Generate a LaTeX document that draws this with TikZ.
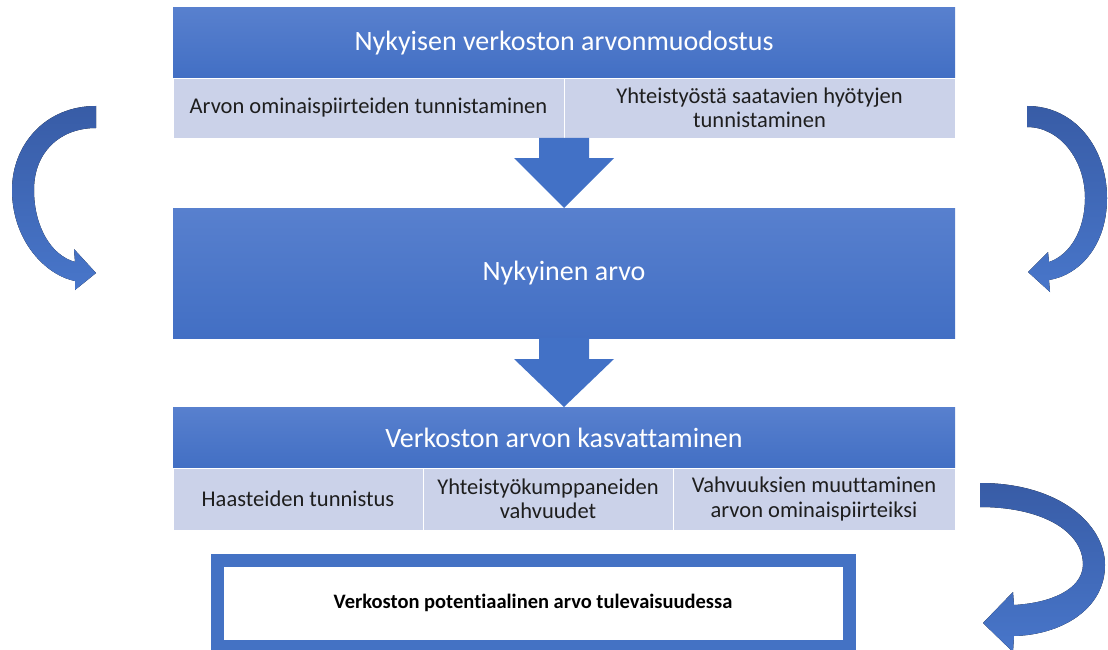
\documentclass[tikz,border=0pt]{standalone}
\usepackage{fontspec}
\setmainfont{Carlito}[Ligatures=NoCommon]
\usetikzlibrary{calc}

\definecolor{hdrtop}{RGB}{88,128,206}
\definecolor{hdrbot}{RGB}{66,111,196}
\definecolor{cellfill}{RGB}{203,210,233}
\definecolor{cellink}{RGB}{30,30,30}
\definecolor{arrowblue}{RGB}{66,113,198}
\definecolor{curvetop}{RGB}{56,92,166}
\definecolor{curvebot}{RGB}{72,118,202}
\definecolor{framecol}{RGB}{68,114,196}

\tikzset{
  base/.style={inner sep=0pt, outer sep=0pt},
  hdr/.style={base, top color=hdrtop, bottom color=hdrbot, text=white,
    font=\fontsize{28}{32}\selectfont, minimum width=782pt},
  cell/.style={base, fill=cellfill, draw=white, line width=0.8pt, text=cellink,
    align=center, font=\fontsize{22.5}{24.5}\selectfont},
  flowarrow/.style={fill=arrowblue},
  loopshape/.style={top color=curvetop, bottom color=curvebot},
  finalbox/.style={base, draw=framecol, line width=13pt, fill=white,
    font=\bfseries\fontsize{20.5}{24}\selectfont, text=black}
}

\begin{document}
\begin{tikzpicture}[x=1pt, y=-1pt]
\useasboundingbox (0,0) rectangle (1108,650);

% first stage: header and its two sub-cells
\node[hdr, minimum height=70pt] (t1) at (564,43) {Nykyisen verkoston arvonmuodostus};
\node[cell, minimum width=391pt, minimum height=60pt] (t1a) at (368.5,108)
  {Arvon ominaispiirteiden tunnistaminen};
\node[cell, minimum width=391pt, minimum height=60pt] (t1b) at (759.5,108)
  {Yhteistyöstä saatavien hyötyjen\\tunnistaminen};

% middle stage
\node[hdr, minimum height=130pt] (mv) at (564,273) {Nykyinen arvo};

% third stage: header and three sub-cells
\node[hdr, minimum height=61pt] (b1) at (564,437.5) {Verkoston arvon kasvattaminen};
\node[cell, minimum width=250pt, minimum height=62pt] (b1a) at (298,499)
  {Haasteiden tunnistus};
\node[cell, minimum width=250pt, minimum height=62pt] (b1b) at (548,499)
  {Yhteistyökumppaneiden\\vahvuudet};
\node[cell, minimum width=282pt, minimum height=62pt] (b1c) at (814,499)
  {Vahvuuksien muuttaminen\\arvon ominaispiirteiksi};

% outcome box
\node[finalbox, minimum width=632pt, minimum height=86.5pt] (fv) at (533,603.25)
  {Verkoston potentiaalinen arvo tulevaisuudessa};

% block arrows between the stages
\fill[flowarrow] (mv.north) -- ($(mv.north)+(-50,-50)$) -- ($(mv.north)+(-25,-50)$)
  -- ($(mv.north |- t1a.south)+(-25,0)$) -- ($(mv.north |- t1a.south)+(25,0)$)
  -- ($(mv.north)+(25,-50)$) -- ($(mv.north)+(50,-50)$) -- cycle;
\fill[flowarrow] (b1.north) -- ($(b1.north)+(-50,-48)$) -- ($(b1.north)+(-25,-48)$)
  -- ($(b1.north |- mv.south)+(-25,0)$) -- ($(b1.north |- mv.south)+(25,0)$)
  -- ($(b1.north)+(25,-48)$) -- ($(b1.north)+(50,-48)$) -- cycle;

% curved feedback arrow, left
\fill[loopshape] (96,106) .. controls (45,106) and (12,145) .. (12,190)
  .. controls (12,240) and (45,275) .. (75,281)
  -- (75,290) -- (96,273) -- (74,249) -- (75,262)
  .. controls (50,255) and (34,225) .. (34,190)
  .. controls (34,152) and (60,128) .. (96,128) -- cycle;

% curved feedback arrow, right
\fill[loopshape] (1027,106) .. controls (1075,106) and (1107,148) .. (1107,198)
  .. controls (1107,245) and (1080,275) .. (1049,280)
  -- (1050,292) -- (1028,272) -- (1048,252) -- (1049,262)
  .. controls (1070,255) and (1085,230) .. (1085,198)
  .. controls (1085,160) and (1060,127) .. (1027,127) -- cycle;

% curved arrow towards the outcome box
\fill[loopshape] (980,483) .. controls (1060,483) and (1105,525) .. (1105,565)
  .. controls (1105,610) and (1060,635) .. (1014,636)
  -- (1013,652) -- (983,623) -- (1013,592) -- (1014,605)
  .. controls (1050,603) and (1082,590) .. (1083,565)
  .. controls (1083,530) and (1040,507) .. (980,507) -- cycle;
\end{tikzpicture}
\end{document}
